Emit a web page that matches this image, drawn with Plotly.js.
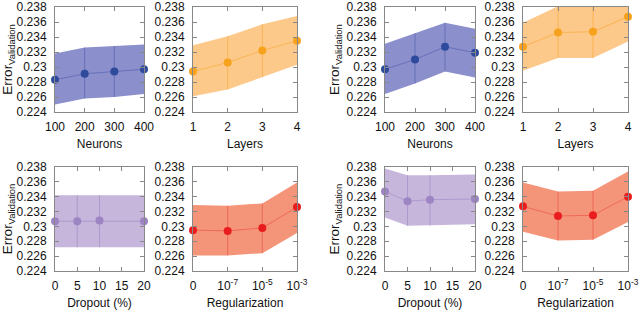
<!DOCTYPE html>
<html>
<head>
<meta charset="utf-8">
<script src="https://cdn.plot.ly/plotly-3.0.1.min.js"></script>
<style>html,body{margin:0;padding:0;background:#fff}#chart{width:640px;height:310px}</style>
</head>
<body>
<div id="chart"></div>
<script>
// ---- data ----
const neurons = [100, 200, 300, 400];
const layers = [1, 2, 3, 4];
const dropout = [0, 5, 10, 20];
const regPos = [-9, -7, -5, -3];           // log10 position; "0" drawn at -9
const regLabels = ['0', '10<sup>-7</sup>', '10<sup>-5</sup>', '10<sup>-3</sup>'];

// left group
const nMeanA = [0.2283, 0.2291, 0.2294, 0.2297];
const nHiA   = [0.2318, 0.2326, 0.2328, 0.2330];
const nLoA   = [0.2250, 0.2258, 0.2260, 0.2264];
const lMeanA = [0.2294, 0.2306, 0.2322, 0.2335];
const lHiA   = [0.2329, 0.2341, 0.2357, 0.2368];
const lLoA   = [0.2261, 0.2270, 0.2286, 0.2303];
const dMeanA = [0.2307, 0.2307, 0.2308, 0.2307];
const dHiA   = [0.2342, 0.2342, 0.2342, 0.2342];
const dLoA   = [0.2272, 0.2272, 0.2272, 0.2272];
const rMeanA = [0.2295, 0.2294, 0.2298, 0.2326];
const rHiA   = [0.2329, 0.2328, 0.2331, 0.2359];
const rLoA   = [0.2261, 0.2261, 0.2264, 0.2291];

// right group
const nMeanB = [0.2297, 0.2310, 0.2327, 0.2319];
const nHiB   = [0.2331, 0.2345, 0.2359, 0.2351];
const nLoB   = [0.2264, 0.2278, 0.2294, 0.2286];
const lMeanB = [0.2327, 0.2346, 0.2347, 0.2367];
const lHiB   = [0.2359, 0.2381, 0.2384, 0.2400];
const lLoB   = [0.2295, 0.2312, 0.2312, 0.2334];
const dMeanB = [0.2347, 0.2334, 0.2336, 0.2337];
const dHiB   = [0.2378, 0.2369, 0.2369, 0.2370];
const dLoB   = [0.2312, 0.2301, 0.2301, 0.2303];
const rMeanB = [0.2327, 0.2314, 0.2315, 0.2340];
const rHiB   = [0.2359, 0.2347, 0.2348, 0.2374];
const rLoB   = [0.2293, 0.2281, 0.2282, 0.2306];

const yTicks = [0.224, 0.226, 0.228, 0.23, 0.232, 0.234, 0.236, 0.238];

// ---- styles ----
const BLUE = {band: '#8b8fcc', line: 'rgba(60,75,160,0.45)', mark: '#2d4a9c'};
const ORANGE = {band: '#fdc98a', line: 'rgba(245,160,30,0.5)', mark: '#f6a21c'};
const PURPLE = {band: '#c7b6dc', line: 'rgba(150,125,190,0.5)', mark: '#9d84c2'};
const RED = {band: '#f4957a', line: 'rgba(230,40,30,0.4)', mark: '#e91d1d'};

const traces = [];
function panel(n, x, mean, lo, hi, c) {
  const xs = 'x' + (n === 1 ? '' : n), ys = 'y' + (n === 1 ? '' : n);
  traces.push({x: x.concat(x.slice().reverse()), y: hi.concat(lo.slice().reverse()),
    xaxis: xs, yaxis: ys, mode: 'lines', fill: 'toself', fillcolor: c.band,
    line: {width: 0}, hoverinfo: 'skip', showlegend: false});
  // vertical separators inside the band at inner points
  const vx = [], vy = [];
  for (let i = 1; i < x.length - 1; i++) { vx.push(x[i], x[i], null); vy.push(lo[i], hi[i], null); }
  traces.push({x: vx, y: vy, xaxis: xs, yaxis: ys, mode: 'lines',
    line: {color: c.line, width: 1}, hoverinfo: 'skip', showlegend: false});
  traces.push({x: x, y: mean, xaxis: xs, yaxis: ys, mode: 'lines+markers',
    line: {color: c.line, width: 1}, marker: {color: c.mark, size: 8},
    cliponaxis: false, showlegend: false});
}
panel(1, neurons, nMeanA, nLoA, nHiA, BLUE);
panel(2, layers, lMeanA, lLoA, lHiA, ORANGE);
panel(3, neurons, nMeanB, nLoB, nHiB, BLUE);
panel(4, layers, lMeanB, lLoB, lHiB, ORANGE);
panel(5, dropout, dMeanA, dLoA, dHiA, PURPLE);
panel(6, regPos, rMeanA, rLoA, rHiA, RED);
panel(7, dropout, dMeanB, dLoB, dHiB, PURPLE);
panel(8, regPos, rMeanB, rLoB, rHiB, RED);

const FONT = {family: 'Liberation Sans, Arial, sans-serif', size: 12, color: '#111'};
const colDom = [[55/640, 144/640], [193/640, 297/640], [385/640, 475/640], [523/640, 628/640]];
const rowDom = [[1 - 112/310, 1 - 7/310], [1 - 271/310, 1 - 167/310]];

const minorReg = [];
for (let d = -9; d < -3; d++) for (let k = 2; k <= 9; k++) minorReg.push(d + Math.log10(k));

const layout = {width: 640, height: 310, margin: {l: 0, r: 0, t: 0, b: 0},
  paper_bgcolor: '#fff', plot_bgcolor: '#fff', font: FONT, showlegend: false};

const xcfg = [
  {range: [100, 400], tickvals: neurons, title: 'Neurons'},
  {range: [1, 4], tickvals: layers, title: 'Layers'},
  {range: [100, 400], tickvals: neurons, title: 'Neurons'},
  {range: [1, 4], tickvals: layers, title: 'Layers'},
  {range: [0, 20], tickvals: [0, 5, 10, 15, 20], title: 'Dropout (%)'},
  {range: [-9, -3], tickvals: regPos, ticktext: regLabels, title: 'Regularization', minor: true},
  {range: [0, 20], tickvals: [0, 5, 10, 15, 20], title: 'Dropout (%)'},
  {range: [-9, -3], tickvals: regPos, ticktext: regLabels, title: 'Regularization', minor: true},
];
let extra = 9;
for (let n = 1; n <= 8; n++) {
  const col = (n - 1) % 4, row = n <= 4 ? 0 : 1;
  const c = xcfg[n - 1];
  const sfx = n === 1 ? '' : String(n);
  const xa = {domain: colDom[col], anchor: 'y' + sfx, range: c.range,
    tickmode: 'array', tickvals: c.tickvals, ticks: 'inside', ticklen: 4, tickcolor: '#888',
    showline: true, linecolor: '#888', linewidth: 1, mirror: 'ticks', showgrid: false, zeroline: false,
    ticklabelstandoff: 4, tickfont: FONT, ticklabeloverflow: 'allow',
    title: {text: c.title, font: FONT, standoff: 6}};
  if (c.ticktext) xa.ticktext = c.ticktext;
  if (c.minor) {
    // minor log ticks along the bottom only
    layout['xaxis' + extra] = {domain: colDom[col], anchor: 'y' + sfx, overlaying: 'x' + sfx,
      range: c.range, tickmode: 'array', tickvals: minorReg,
      showticklabels: false, ticks: 'inside', ticklen: 3, tickcolor: '#888',
      showline: false, showgrid: false, zeroline: false};
    extra++;
  }
  const ya = {domain: rowDom[row], anchor: 'x' + sfx, range: [0.224, 0.238],
    tickmode: 'array', tickvals: yTicks, ticktext: yTicks.map(v => String(v)),
    ticks: 'inside', ticklen: 4, tickcolor: '#888', showline: true, linecolor: '#888', linewidth: 1,
    mirror: 'ticks', showgrid: false, zeroline: false, ticklabelstandoff: 5, tickfont: FONT,
    ticklabeloverflow: 'allow'};
  if (col === 0 || col === 2) ya.title = {text: 'Error<sub>Validation</sub>', font: {family: FONT.family, size: 13.5, color: '#111'}, standoff: 3};
  layout['xaxis' + sfx] = xa;
  layout['yaxis' + sfx] = ya;
}

Plotly.newPlot('chart', traces, layout, {staticPlot: true, displayModeBar: false});
</script>
</body>
</html>
